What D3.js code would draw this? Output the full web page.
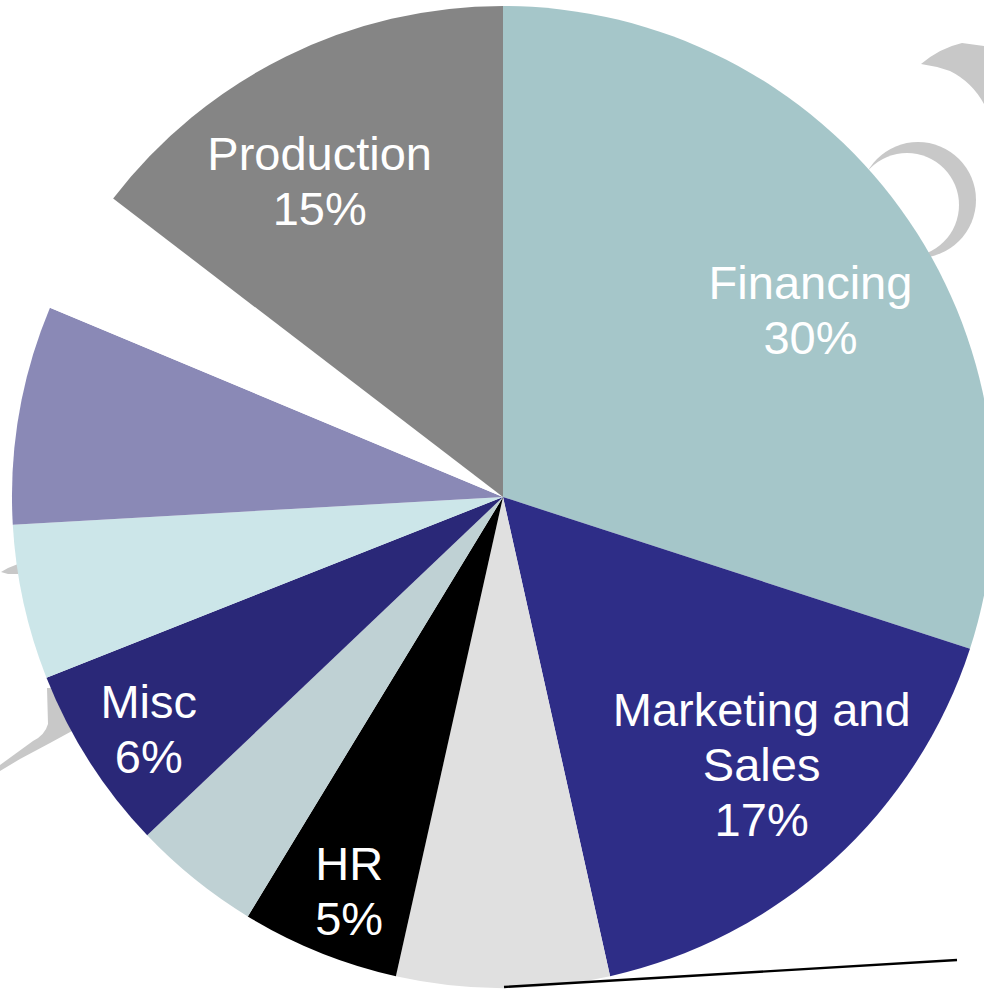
<!DOCTYPE html>
<html>
<head>
<meta charset="utf-8">
<script src="https://cdn.jsdelivr.net/npm/d3@7"></script>
<style>
  html, body { margin: 0; padding: 0; background: #ffffff; overflow: hidden; }
  svg { display: block; }
</style>
</head>
<body>
<script>
// ---- data ----
const categories = ["Financing", "Marketing and Sales", "Other A", "HR", "Other B", "Misc", "Other C", "Other D", "Other E", "Production"];
const values     = [30, 16.5, 7.0, 5.2, 4.2, 6.1, 5.1, 7.2, 4.1, 14.6];
const labelled   = [true, true, false, true, false, true, false, false, false, true];

// ---- styles ----
const sliceColors = ["#A5C6C9", "#2E2D87", "#E0E0E0", "#000000", "#BFD1D4", "#2A2878", "#CCE6E9", "#8A89B6", "#FFFFFF", "#858585"];
// label placement: fraction of radius and angular shift (deg) from slice mid-angle
const labelPlacement = {
  "Financing":           { r: 0.733, shift: 4.7 },
  "Marketing and Sales": { r: 0.757, shift: -1.8 },
  "HR":                  { r: 0.86,  shift: -0.6 },
  "Misc":                { r: 0.862, shift: -0.6 },
  "Production":          { r: 0.745, shift: -3.8 }
};

const W = 984, H = 991;
const cx = 503, cy = 497, R = 491;
const fontSize = 47, lineH = 55, capH = 0.716 * fontSize;

const svg = d3.select("body").append("svg")
  .attr("width", W).attr("height", H)
  .attr("viewBox", `0 0 ${W} ${H}`);

// faint background watermark fragments
const wm = svg.append("g").attr("fill", "#C8C8C8");
wm.append("path").attr("d", "M921,64 Q940,48 962,43 L984,46 L984,104 Q972,82 950,71 Q936,66 921,64 Z");
wm.append("circle").attr("cx", 918).attr("cy", 200).attr("r", 58);
wm.append("circle").attr("cx", 907).attr("cy", 205).attr("r", 52).attr("fill", "#ffffff");
wm.append("path").attr("d", "M1,572 L8,568 L18,564 L18,574 L8,574 Z");
wm.append("path").attr("d", "M47,688 L48,724 Q45,735 33,741 L0,765 L0,771 L20,759 L50,743 L72,731 L72,688 Z");

const data = categories.map((c, i) => ({ name: c, value: values[i], color: sliceColors[i], show: labelled[i] }));
const total = d3.sum(values);

const pie = d3.pie().sort(null).value(d => d.value).startAngle(0).endAngle(2 * Math.PI);
const arcs = pie(data);
const arc = d3.arc().innerRadius(0).outerRadius(R);

const g = svg.append("g").attr("transform", `translate(${cx},${cy})`);
g.selectAll("path.slice").data(arcs).enter().append("path")
  .attr("class", "slice")
  .attr("d", arc)
  .attr("fill", d => d.data.color);

// leader line at the bottom
svg.append("line")
  .attr("x1", 504).attr("y1", 987).attr("x2", 957).attr("y2", 960)
  .attr("stroke", "#000").attr("stroke-width", 2.4);

// labels
const maxW = 310;
function wrapLines(text) {
  const probe = svg.append("text").attr("font-family", "'Liberation Sans', Arial, sans-serif").attr("font-size", fontSize);
  const words = text.split(" ");
  const lines = [];
  let cur = "";
  words.forEach(w => {
    const t = cur ? cur + " " + w : w;
    probe.text(t);
    if (probe.node().getComputedTextLength() > maxW && cur) { lines.push(cur); cur = w; }
    else cur = t;
  });
  if (cur) lines.push(cur);
  probe.remove();
  return lines;
}

arcs.filter(d => d.data.show).forEach(d => {
  const p = labelPlacement[d.data.name];
  const mid = (d.startAngle + d.endAngle) / 2 + p.shift * Math.PI / 180;
  const lx = Math.sin(mid) * R * p.r;
  const ly = -Math.cos(mid) * R * p.r;
  const pct = Math.round(d.data.value / total * 100) + "%";
  const lines = wrapLines(d.data.name).concat([pct]);
  const n = lines.length;
  const y0 = ly - ((n - 1) * lineH - capH) / 2;
  const t = g.append("text")
    .attr("font-family", "'Liberation Sans', Arial, sans-serif")
    .attr("font-size", fontSize)
    .attr("fill", "#ffffff")
    .attr("text-anchor", "middle");
  lines.forEach((ln, i) => {
    t.append("tspan").attr("x", lx).attr("y", y0 + i * lineH).text(ln);
  });
});
</script>
</body>
</html>
